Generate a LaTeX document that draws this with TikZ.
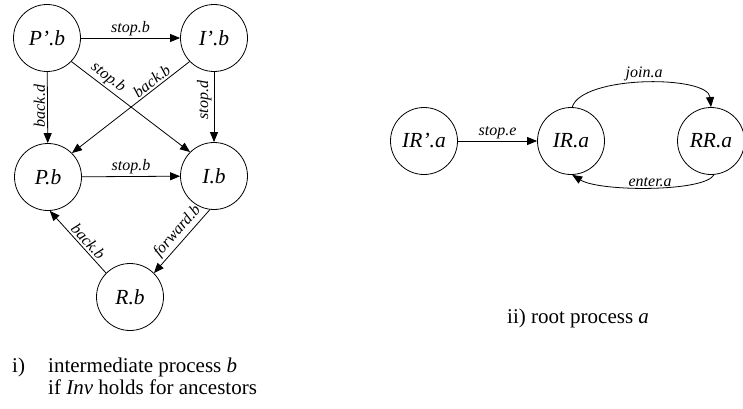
\documentclass[tikz,border=0pt]{standalone}
\usepackage{fontspec}
\setmainfont{Liberation Serif}
\usetikzlibrary{arrows.meta}
\begin{document}
\begin{tikzpicture}[x=1pt,y=1pt,
  st/.style={circle,draw,line width=0.8pt,minimum size=67pt,inner sep=0pt,font=\fontsize{21.5}{25}\selectfont\itshape},
  tr/.style={line width=0.8pt,-{Triangle[length=10pt,width=8pt]}},
  lab/.style={font=\fontsize{16}{19}\selectfont\itshape,inner sep=2pt},
  vlab/.style={lab,rotate=90,anchor=south},
  capt/.style={font=\fontsize{21}{25}\selectfont,anchor=base west,inner sep=0pt}]
\useasboundingbox (0,0) rectangle (743,408);
% left graph
\node[st] (Pp) at (47,370) {P’.b};
\node[st] (Ip) at (214,370) {I’.b};
\node[st] (P) at (48,231) {P.b};
\node[st] (I) at (214,232) {I.b};
\node[st] (R) at (130,111) {R.b};
\draw[tr] (Pp) -- node[lab,above]{stop.b} (Ip);
\draw[tr] (Pp) -- node[vlab,pos=0.48]{back.d} (P);
\draw[tr] (Ip) -- node[vlab,pos=0.4]{stop.d} (I);
\draw[tr] (Pp.-44) -- node[lab,sloped,above,pos=0.26]{stop.b} (I.135);
\draw[tr] (Ip.224) -- node[lab,sloped,above,pos=0.28]{back.b} (P.45);
\draw[tr] (P) -- node[lab,above]{stop.b} (I);
\draw[tr] (R.135) -- node[lab,sloped,above,pos=0.42]{back.b} (P.-87);
\draw[tr] (I.-97) -- node[lab,sloped,above,pos=0.45]{forward.b} (R.45);
% right graph
\node[st] (IRp) at (424,267) {IR’.a};
\node[st] (IR) at (571,267) {IR.a};
\node[st] (RR) at (711,267) {RR.a};
\draw[tr] (IRp) -- node[lab,above]{stop.e} (IR);
\draw[tr] (IR.88) .. controls (582,333) and (708,333) .. node[lab,above]{join.a} (RR.90);
\draw[tr] (RR.-85) .. controls (705,216) and (600,216) .. node[lab,above,inner sep=0.5pt]{enter.a} (IR.-88);
% captions
\node[capt] (c1) at (12,36) {i)};
\node[capt] (c2) at (48,36) {intermediate process \textit{b}};
\node[capt] (c3) at (48,14) {if \textit{Inv} holds for ancestors};
\node[capt] (c4) at (507,85) {ii) root process \textit{a}};
\end{tikzpicture}
\end{document}
